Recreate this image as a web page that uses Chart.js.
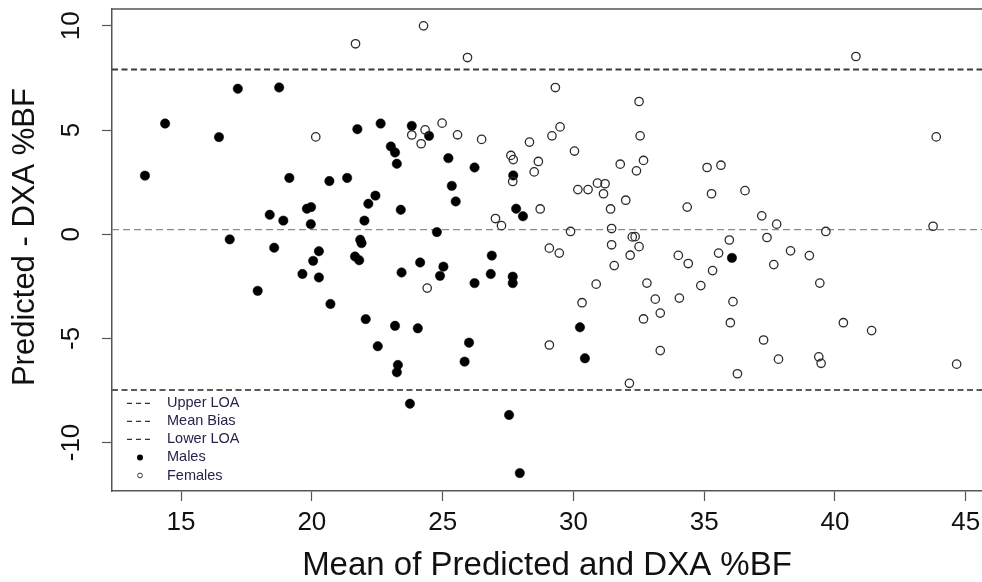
<!DOCTYPE html>
<html>
<head>
<meta charset="utf-8">
<script src="https://cdn.jsdelivr.net/npm/chart.js@4/dist/chart.umd.min.js"></script>
<style>
html,body{margin:0;padding:0;background:#fff;overflow:hidden;}
#wrap{width:982px;height:582px;}
</style>
</head>
<body>
<div id="wrap"><canvas id="c" width="982" height="582"></canvas></div>
<script>
// ---- data ----
const maleMean = [13.62,14.39,16.45,17.17,18.75,19.14,20.67,21.35,21.74,22.63,23.02,23.18,23.25,22.43,22.16,22.01,23.40,18.39,18.91,19.81,19.97,19.96,16.86,18.56,20.27,21.85,21.90,20.05,19.64,20.27,17.93,20.71,21.65,21.81,23.43,22.06,23.18,22.52,23.29,23.25,23.82,24.48,25.22,26.22,27.70,25.35,25.50,27.81,28.07,24.78,24.14,25.03,24.90,26.88,26.84,26.22,27.68,27.68,24.05,26.01,25.84,30.25,30.44,23.75,27.54,27.95,36.06];
const maleDiff = [2.81,5.31,4.66,6.98,7.04,2.70,2.55,2.70,5.04,5.31,4.21,3.92,3.38,1.85,1.46,0.65,1.17,0.93,0.65,1.22,1.30,0.48,-0.25,-0.65,-0.82,-0.27,-0.43,-1.28,-1.91,-2.08,-2.72,-3.35,-1.07,-1.25,-1.84,-4.08,-4.40,-5.38,-6.28,-6.63,5.20,4.72,3.65,3.20,2.82,2.32,1.57,1.22,0.86,0.10,-1.36,-1.56,-2.00,-1.03,-1.91,-2.35,-2.04,-2.35,-4.52,-5.21,-6.12,-4.47,-5.96,-8.14,-8.68,-11.47,-1.14];
const femaleMean = [21.67,20.15,24.27,25.95,29.31,32.51,24.98,29.49,29.18,32.55,25.57,26.49,24.33,23.82,24.18,28.32,30.04,32.68,32.41,31.79,27.61,27.70,28.66,28.50,27.68,30.17,30.56,30.92,31.21,31.15,32.00,31.42,28.73,27.02,27.25,29.89,31.46,32.25,32.36,31.46,32.51,24.41,29.08,29.46,30.87,30.33,29.08,31.56,32.17,32.81,33.13,33.32,32.68,33.32,32.14,34.01,34.05,40.80,43.87,35.11,35.64,35.28,36.56,34.35,37.20,37.77,39.65,43.75,35.96,37.40,34.39,35.55,35.32,34.87,38.30,39.02,37.66,39.42,36.10,36.00,40.32,41.40,37.27,37.84,39.38,39.47,36.27,44.65];
const femaleDiff = [9.14,4.67,10.00,8.48,7.04,6.37,5.33,5.15,4.72,4.72,4.77,4.55,5.01,4.76,4.34,4.42,3.99,3.54,3.04,3.36,3.78,3.58,3.49,2.99,2.53,2.14,2.14,2.45,2.42,1.94,1.63,1.21,1.21,0.75,0.41,0.13,0.27,-0.13,-0.12,-0.51,-0.60,-2.59,-0.67,-0.91,-2.40,-3.29,-5.32,-1.51,-1.01,-2.35,-3.12,-3.79,-4.07,-5.59,-7.16,-1.02,-3.07,8.53,4.67,3.20,3.31,1.94,2.09,1.30,0.88,0.48,0.13,0.38,-0.28,-0.16,-1.41,-0.91,-1.75,-2.47,-0.80,-1.03,-1.46,-2.35,-3.24,-4.25,-4.25,-4.63,-5.08,-6.00,-5.89,-6.20,-6.70,-6.24];
const upperLOA = 7.90;
const meanBias = 0.22;
const lowerLOA = -7.48;
const xRange = [12.36, 45.62];
const yRange = [-12.33, 10.81];
const xTickValues = [15, 20, 25, 30, 35, 40, 45];
const yTickValues = [-10, -5, 0, 5, 10];
const legendNames = ['Upper LOA', 'Mean Bias', 'Lower LOA', 'Males', 'Females'];
const xTitle = 'Mean of Predicted and DXA %BF';
const yTitle = 'Predicted - DXA %BF';

// ---- helpers ----
const FAMILY = '"Liberation Sans", Arial, sans-serif';
const toPts = (xs, ys) => xs.map((x, i) => ({x: x, y: ys[i]}));
const hline = (y) => [{x: xRange[0], y: y}, {x: xRange[1], y: y}];

const lineStyles = [
  {color: '#3a3a3a', width: 2.0, dash: [6, 3.5]},
  {color: '#8c8c8c', width: 1.4, dash: [7, 4]},
  {color: '#5a5a5a', width: 2.0, dash: [6, 3.5]}
];

const boxPlugin = {
  id: 'topBorder',
  afterDraw(chart) {
    const {ctx, chartArea: a} = chart;
    ctx.save();
    ctx.strokeStyle = '#555';
    ctx.lineWidth = 1.5;
    ctx.beginPath();
    ctx.moveTo(a.left, a.top);
    ctx.lineTo(a.right, a.top);
    ctx.stroke();
    ctx.restore();
  }
};

const legendPlugin = {
  id: 'rLegend',
  afterDraw(chart) {
    const {ctx, chartArea: a} = chart;
    ctx.save();
    ctx.font = '14.5px ' + FAMILY;
    ctx.textBaseline = 'middle';
    ctx.textAlign = 'left';
    const n = legendNames.length;
    legendNames.forEach((name, i) => {
      const y = a.bottom - 15.5 - (n - 1 - i) * 18.05;
      if (i < 3) {
        ctx.strokeStyle = '#333';
        ctx.lineWidth = 1.2;
        ctx.setLineDash([5, 4]);
        ctx.beginPath();
        ctx.moveTo(a.left + 15, y);
        ctx.lineTo(a.left + 40, y);
        ctx.stroke();
        ctx.setLineDash([]);
      } else if (i === 3) {
        ctx.fillStyle = '#000';
        ctx.beginPath();
        ctx.arc(a.left + 28, y, 3, 0, Math.PI * 2);
        ctx.fill();
      } else {
        ctx.strokeStyle = '#333';
        ctx.lineWidth = 1;
        ctx.beginPath();
        ctx.arc(a.left + 28, y, 2.4, 0, Math.PI * 2);
        ctx.stroke();
      }
      ctx.fillStyle = '#26244a';
      ctx.fillText(name, a.left + 55, y);
    });
    ctx.restore();
  }
};

const refLine = (label, y, st, order) => ({
  label: label, type: 'line', showLine: true, data: hline(y),
  borderColor: st.color, borderWidth: st.width, borderDash: st.dash,
  pointRadius: 0, fill: false, order: order
});

new Chart(document.getElementById('c').getContext('2d'), {
  type: 'scatter',
  data: {
    datasets: [
      refLine(legendNames[0], upperLOA, lineStyles[0], 5),
      refLine(legendNames[1], meanBias, lineStyles[1], 4),
      refLine(legendNames[2], lowerLOA, lineStyles[2], 3),
      {label: legendNames[3], data: toPts(maleMean, maleDiff),
       backgroundColor: '#000', borderColor: '#000', borderWidth: 0.5, pointRadius: 4.7, order: 2},
      {label: legendNames[4], data: toPts(femaleMean, femaleDiff),
       backgroundColor: 'rgba(255,255,255,0)', borderColor: '#2b2b2b', borderWidth: 1.3, pointRadius: 4.2, order: 1}
    ]
  },
  options: {
    responsive: false,
    animation: false,
    devicePixelRatio: 1,
    layout: {autoPadding: false, padding: {top: 9, left: 0, right: 0, bottom: 0}},
    plugins: {legend: {display: false}, tooltip: {enabled: false}},
    scales: {
      x: {
        type: 'linear', min: xRange[0], max: xRange[1],
        afterBuildTicks: s => { s.ticks = xTickValues.map(v => ({value: v})); },
        afterFit: s => { s.height = 91; s.paddingLeft = 0; s.paddingRight = 0; },
        grid: {display: true, drawOnChartArea: false, drawTicks: true, tickLength: 10, tickColor: '#555', tickWidth: 1.2},
        border: {display: true, color: '#555', width: 1.5},
        ticks: {font: {family: FAMILY, size: 26}, color: '#111', padding: 6, maxRotation: 0, minRotation: 0, autoSkip: false},
        title: {display: true, text: xTitle, color: '#111',
                font: {family: FAMILY, size: 33, lineHeight: 1}, padding: {top: 0, bottom: 0}}
      },
      y: {
        type: 'linear', min: yRange[0], max: yRange[1],
        afterBuildTicks: s => { s.ticks = yTickValues.map(v => ({value: v})); },
        afterFit: s => { s.width = 112; s.paddingTop = 0; s.paddingBottom = 0; },
        grid: {display: true, drawOnChartArea: false, drawTicks: true, tickLength: 10, tickColor: '#555', tickWidth: 1.2},
        border: {display: true, color: '#555', width: 1.5},
        ticks: {font: {family: FAMILY, size: 26}, color: '#111', padding: 11, minRotation: 90, maxRotation: 90, crossAlign: 'center', autoSkip: false},
        title: {display: true, text: '   ' + yTitle, color: '#111',
                font: {family: FAMILY, size: 31, lineHeight: 1}, padding: {top: 10, bottom: 0}}
      }
    }
  },
  plugins: [boxPlugin, legendPlugin]
});
</script>
</body>
</html>
